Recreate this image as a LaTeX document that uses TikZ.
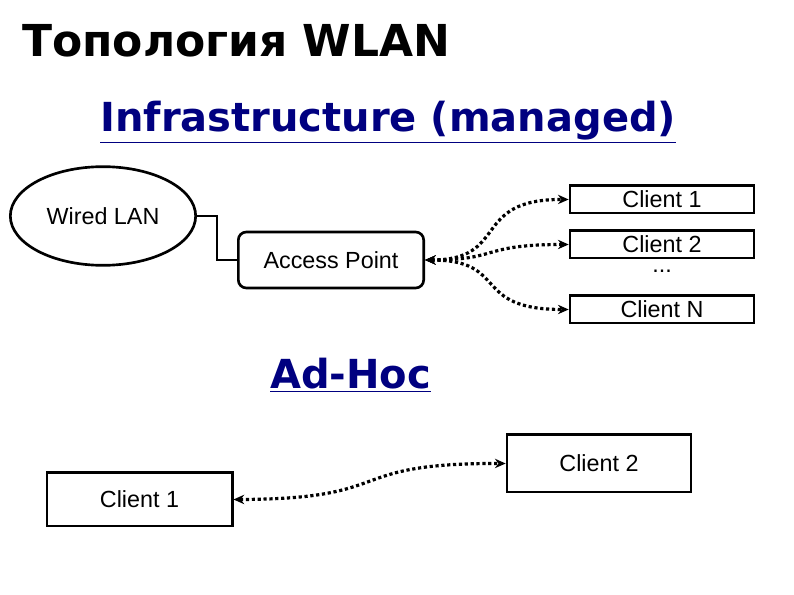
\documentclass[tikz,border=0pt]{standalone}
\usepackage{fontspec}
\setmainfont{Liberation Sans}
\newfontfamily\headfont{DejaVu Sans}
\usetikzlibrary{arrows.meta,shapes.geometric}
\definecolor{navy}{RGB}{0,0,128}
\begin{document}
\begin{tikzpicture}[x=0.75pt,y=-0.75pt,
  txt/.style={font=\fontsize{17.5}{20}\selectfont},
  box/.style={draw,line width=2pt,minimum height=20.5pt,inner sep=0pt,txt},
  link/.style={line width=2.4pt,dotted,{Stealth[length=8pt,width=7pt]}-{Stealth[length=8pt,width=7pt]}},
  head/.style={text=navy,font=\headfont\bfseries\fontsize{30}{34}\selectfont,anchor=base west}]
\useasboundingbox (0,0) rectangle (794,595);
\node[anchor=base west,font=\headfont\bfseries\fontsize{33}{36}\selectfont,inner sep=0pt] (title) at (22,57) {Топология WLAN};
\node[head,inner sep=0pt] (infra) at (100,132) {\underline{Infrastructure (managed)}};
\node[head,inner sep=0pt] (adhoc) at (270,389) {\underline{Ad-Hoc}};
\node[draw,ellipse,line width=2pt,minimum width=139pt,minimum height=74pt,txt] (lan) at (103,216) {Wired LAN};
\node[box,rounded corners=6pt,minimum width=139pt,minimum height=42pt] (ap) at (331,260) {Access Point};
\node[box,minimum width=138pt] (c1) at (662,199.5) {Client 1};
\node[box,minimum width=138pt] (c2) at (662,244.5) {Client 2};
\node[txt] (dots) at (662,271) {...};
\node[box,minimum width=138pt] (cn) at (662,309.5) {Client N};
\node[box,minimum width=139pt,minimum height=40pt] (a1) at (139.5,499.5) {Client 1};
\node[box,minimum width=138pt,minimum height=43pt] (a2) at (599,463.5) {Client 2};
\draw[line width=2pt] (lan.east) -- (217,216) -- (217,260) -- (ap.west);
\draw[link] (ap.east) .. controls (510,260) and (470,199) .. (c1.west);
\draw[link] (ap.east) .. controls (500,260) and (480,244.5) .. (c2.west);
\draw[link] (ap.east) .. controls (510,260) and (470,309.5) .. (cn.west);
\draw[link] (a1.east) .. controls (400,499) and (340,463) .. (a2.west);
\end{tikzpicture}
\end{document}
